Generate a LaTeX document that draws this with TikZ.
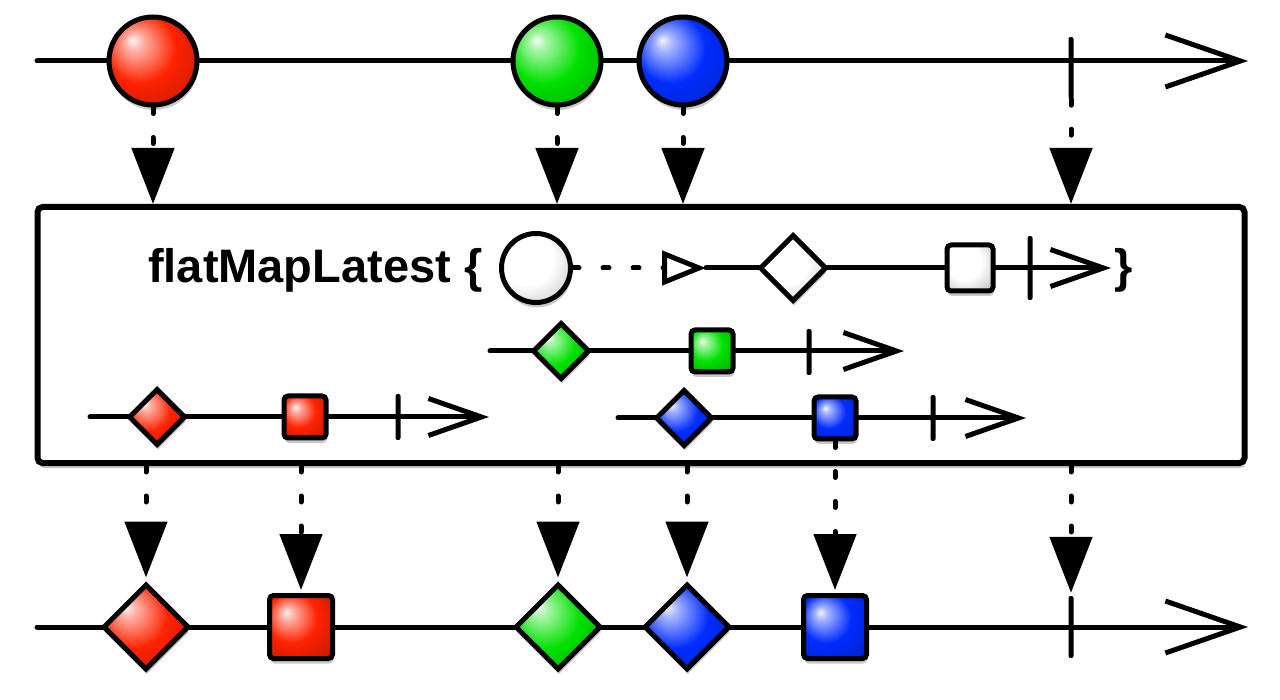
\documentclass[tikz,border=0pt]{standalone}
\usepackage{fontspec}
\setmainfont{Liberation Sans}
\usepackage{xcolor}
\usepackage{tikz}
\usetikzlibrary{arrows.meta, shapes.geometric, shadows}
\definecolor{mred}{RGB}{255,34,0}
\definecolor{mgreen}{RGB}{0,225,0}
\definecolor{mblue}{RGB}{0,44,255}
\colorlet{markcol}{white}
\pgfdeclareradialshading[markcol]{marble}{\pgfqpoint{-12bp}{12bp}}{%
  color(0bp)=(markcol!5!white); color(5bp)=(markcol!35!white);
  color(20bp)=(markcol); color(35bp)=(markcol!80!black);
  color(50bp)=(markcol!55!black)}
\tikzset{
markhue/.code = {\colorlet{markcol}{#1}},
soft/.style = {drop shadow={fill=black!60, opacity=0.35,
               shadow xshift=1pt, shadow yshift=-5pt}}
}
\tikzset{
orb/.style = {circle, draw=black, line width=5pt, inner sep=0pt,
              minimum size=88pt, shading=marble, markhue=#1, soft},
orb/.default = white,
gem/.style = {diamond, draw=black, line width=5pt, inner sep=0pt,
              minimum size=86pt, shading=marble, markhue=#1, soft},
gem/.default = white,
tile/.style = {rectangle, draw=black, line width=5pt, inner sep=0pt,
               rounded corners=4pt, minimum size=63pt, shading=marble,
               markhue=#1, soft},
tile/.default = white
}
\tikzset{
endmark/.style = {rectangle, fill=black, rounded corners=2pt, inner sep=0pt,
                  minimum width=5pt, minimum height=#1},
endmark/.default = 62pt, % length of the stop bar
opbox/.style = {rectangle, draw=black, line width=6pt, fill=white,
                rounded corners=5pt, minimum width=1207pt,
                minimum height=256pt, soft},
optext/.style = {anchor=base west, inner sep=0pt,
                 font=\fontsize{47pt}{50pt}\selectfont\bfseries}
}
\tikzset{
timeline/.style = {line width=5pt, line cap=round,
                   -{Straight Barb[length=75pt, width=52pt]}},
innerline/.style = {line width=5pt, line cap=round,
                    -{Straight Barb[length=53pt, width=37pt]}},
emit/.style = {line width=5pt, line cap=round, dash pattern=on 6pt off 24pt,
               -{Triangle[width=42pt, length=56pt]}},
mapline/.style = {line width=5pt, line cap=round, dash pattern=on 6pt off 24pt,
                  -{Triangle[open, width=34pt, length=44pt]}}
}

\begin{document}
\begin{tikzpicture}[x=1pt, y=-1pt]
  \useasboundingbox (0,0) rectangle (1280,700);

  % Box
    \node[opbox] (opBox) at (641,335) {};

  % Source line
    \coordinate (srcStart) at (37,61);
    \coordinate (srcEnd) at (1248,61);
    \draw[timeline] (srcStart) -- (srcEnd);
    \node[orb=mred] (redOrb) at (153,61) {};
    \node[orb=mgreen] (greenOrb) at (557,61) {};
    \node[orb=mblue] (blueOrb) at (683,61) {};
    \node[endmark] (srcStop) at (1071,68) {};

  % Operator template
    \node[optext] (opText) at (148,283) {flatMapLatest \{};
    \node[optext] (opBrace) at (1114,283) {\}};
    \coordinate (tplStart) at (706,268);
    \coordinate (tplEnd) at (1111,268);
    \node[orb, minimum size=69pt] (whiteOrb) at (536,268) {};
    \draw[mapline] (whiteOrb) -- (tplStart);
    \draw[innerline] (tplStart) -- (tplEnd);
    \node[gem, minimum size=67pt] (whiteGem) at (793,268) {};
    \node[tile, minimum size=46pt] (whiteTile) at (970,268) {};
    \node[endmark=64pt] (tplStop) at (1030,268) {};

  % Inner lines
    \coordinate (grnStart) at (490,351);
    \coordinate (grnEnd) at (904,351);
    \draw[innerline] (grnStart) -- (grnEnd);
    \node[gem=mgreen, minimum size=57pt] (greenGem) at (561,351) {};
    \node[tile=mgreen, minimum size=42pt] (greenTile) at (712,351) {};
    \node[endmark=46pt] (grnStop) at (809,352) {};

    \coordinate (bluStart) at (618,418);
    \coordinate (bluEnd) at (1026,418);
    \draw[innerline] (bluStart) -- (bluEnd);
    \node[gem=mblue, minimum size=57pt] (blueGem) at (684,418) {};
    \node[tile=mblue, minimum size=42pt] (blueTile) at (835,418) {};
    \node[endmark=46pt] (bluStop) at (933,418) {};

    \coordinate (redStart) at (90,417);
    \coordinate (redEnd) at (489,417);
    \draw[innerline] (redStart) -- (redEnd);
    \node[gem=mred, minimum size=57pt] (redGem) at (157,417) {};
    \node[tile=mred, minimum size=42pt] (redTile) at (305,417) {};
    \node[endmark=46pt] (redStop) at (398,417) {};

  % Result line
    \coordinate (outStart) at (37,627);
    \coordinate (outEnd) at (1248,627);
    \draw[timeline] (outStart) -- (outEnd);
    \node[gem=mred] (outRedGem) at (146,627) {};
    \node[tile=mred] (outRedTile) at (301,627) {};
    \node[gem=mgreen] (outGreenGem) at (558,627) {};
    \node[gem=mblue] (outBlueGem) at (687,627) {};
    \node[tile=mblue] (outBlueTile) at (835,627) {};
    \node[endmark] (outStop) at (1071,627) {};

  % Lines
    \draw[emit] (redOrb) -- (redOrb |- opBox.north);
    \draw[emit] (greenOrb) -- (greenOrb |- opBox.north);
    \draw[emit] (blueOrb) -- (blueOrb |- opBox.north);
    \draw[emit] (srcStop) -- (srcStop |- opBox.north);
    \draw[emit, shorten >=4pt] (outRedGem |- opBox.south) -- (outRedGem);
    \draw[emit, shorten >=3pt] (outRedTile |- opBox.south) -- (outRedTile);
    \draw[emit, shorten >=4pt] (outGreenGem |- opBox.south) -- (outGreenGem);
    \draw[emit, shorten >=4pt] (outBlueGem |- opBox.south) -- (outBlueGem);
    \draw[emit, shorten >=3pt] (blueTile) -- (outBlueTile);
    \draw[emit, shorten >=3pt] (outStop |- opBox.south) -- (outStop);
  \end{tikzpicture}
\end{document}
